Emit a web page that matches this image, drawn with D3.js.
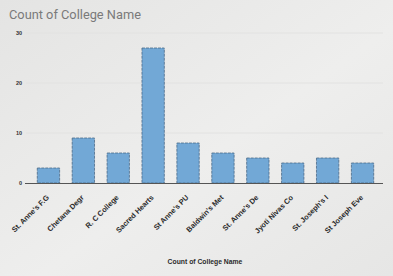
<!DOCTYPE html>
<html>
<head>
<meta charset="utf-8">
<script src="https://cdn.jsdelivr.net/npm/d3@7"></script>
<style>
  html, body { margin: 0; padding: 0; }
  body { width: 393px; height: 276px; overflow: hidden; background: #ebebea; }
  svg { display: block; }
</style>
</head>
<body>
<svg id="chart" width="393" height="276"></svg>
<script>
const categories = ["St. Anne's F.G", "Chetana Degr", "R. C College", "Sacred Hearts", "St Anne's PU",
  "Baldwin's Met", "St. Anne's De", "Jyoti Nivas Co", "St. Joseph's I", "St Joseph Eve"];
const counts = [3, 9, 6, 27, 8, 6, 5, 4, 5, 4];
const yTicks = [0, 10, 20, 30];
const titleText = "Count of College Name";
const xAxisTitle = "Count of College Name";

const svg = d3.select("#chart");

const defs = svg.append("defs");
const grad = defs.append("linearGradient").attr("id", "bg").attr("x1", 0).attr("y1", 0).attr("x2", 1).attr("y2", 1);
grad.append("stop").attr("offset", "0%").attr("stop-color", "#e4e4e3");
grad.append("stop").attr("offset", "55%").attr("stop-color", "#eeeeed");
grad.append("stop").attr("offset", "100%").attr("stop-color", "#e6e6e5");
svg.append("rect").attr("width", 393).attr("height", 276).attr("fill", "url(#bg)");

const x = d3.scaleBand().domain(categories).range([31, 380]).paddingInner(0.36).paddingOuter(0.18);
const y = d3.scaleLinear().domain([0, 30]).range([183, 33]);

// title
svg.append("text")
  .attr("x", 9).attr("y", 19)
  .attr("font-family", "Roboto, 'Open Sans', sans-serif")
  .attr("font-size", 12.8)
  .attr("fill", "#7a7a7a")
  .text(titleText);

// gridlines
svg.append("g")
  .selectAll("line")
  .data(yTicks.filter(d => d > 0))
  .join("line")
  .attr("x1", 26).attr("x2", 383)
  .attr("y1", d => y(d)).attr("y2", d => y(d))
  .attr("stroke", "#e2e2e1").attr("stroke-width", 1);

// y axis labels
const yAxis = d3.axisLeft(y).tickValues(yTicks).tickSize(0).tickPadding(0);
svg.append("g")
  .attr("transform", "translate(22,0)")
  .call(yAxis)
  .call(g => g.select(".domain").remove())
  .call(g => g.selectAll("text")
    .attr("font-family", "'Liberation Sans', Arial, sans-serif")
    .attr("font-size", 5.5)
    .attr("font-weight", "bold")
    .attr("fill", "#333"));

// bars
svg.append("g")
  .selectAll("rect")
  .data(categories.map((c, i) => ({ c, v: counts[i] })))
  .join("rect")
  .attr("x", d => x(d.c))
  .attr("y", d => y(d.v))
  .attr("width", x.bandwidth())
  .attr("height", d => y(0) - y(d.v))
  .attr("fill", "#72a8d6")
  .attr("stroke", "#4a6a88")
  .attr("stroke-width", 0.8)
  .attr("stroke-dasharray", "3,1");

// x axis
const xAxis = d3.axisBottom(x).tickSize(0).tickPadding(0);
svg.append("g")
  .attr("transform", `translate(0,${y(0)})`)
  .call(xAxis)
  .call(g => g.select(".domain")
    .attr("d", "M25,0.5H383")
    .attr("stroke", "#555").attr("stroke-width", 1.2))
  .call(g => g.selectAll(".tick text")
    .attr("font-family", "'Liberation Sans', Arial, sans-serif")
    .attr("font-size", 7.4)
    .attr("font-weight", "bold")
    .attr("fill", "#2b2b2b")
    .attr("text-anchor", "end")
    .attr("dy", "0")
    .attr("transform", "translate(1,15) rotate(-45)"));

// x axis title
svg.append("text")
  .attr("x", 205).attr("y", 264)
  .attr("text-anchor", "middle")
  .attr("font-family", "'Liberation Sans', Arial, sans-serif")
  .attr("font-size", 6.8)
  .attr("font-weight", "bold")
  .attr("fill", "#2b2b2b")
  .text(xAxisTitle);
</script>
</body>
</html>
